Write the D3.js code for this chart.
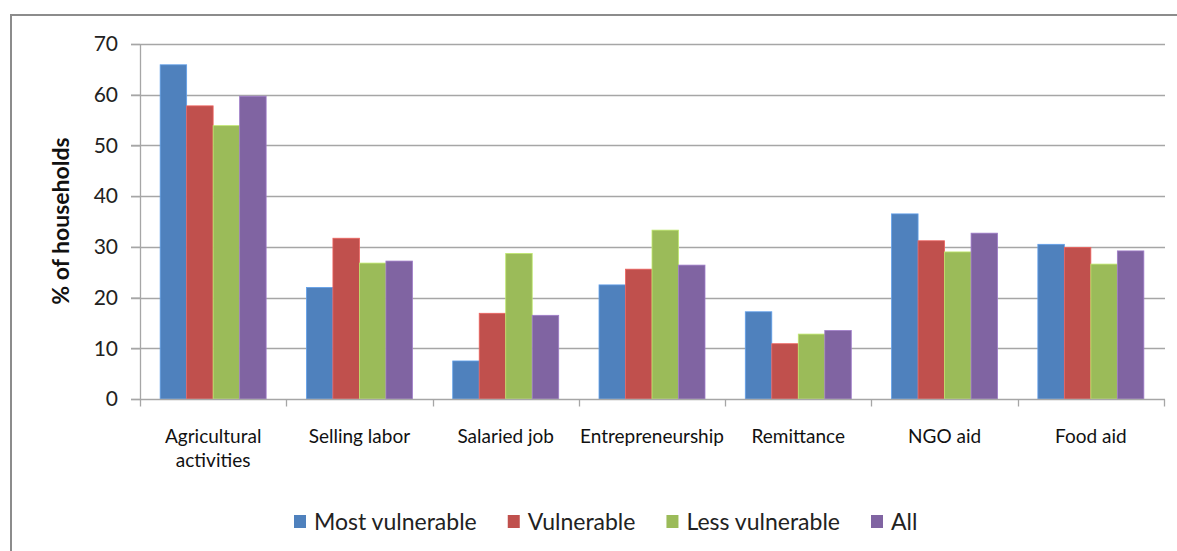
<!DOCTYPE html>
<html>
<head>
<meta charset="utf-8">
<script src="https://cdn.jsdelivr.net/npm/d3@7"></script>
<style>
  html, body { margin: 0; padding: 0; background: #fff; }
  svg { display: block; font-family: Lato, "Open Sans", sans-serif; }
</style>
</head>
<body>
<svg id="chart" width="1177" height="551"></svg>
<script>
// Income sources by household vulnerability group (% of households)
const categories = [
  ["Agricultural", "activities"],
  ["Selling labor"],
  ["Salaried job"],
  ["Entrepreneurship"],
  ["Remittance"],
  ["NGO aid"],
  ["Food aid"]
];
const seriesNames = ["Most vulnerable", "Vulnerable", "Less vulnerable", "All"];
const mostVulnerable = [65.9, 22.0, 7.5, 22.5, 17.2, 36.5, 30.5];
const vulnerable     = [57.8, 31.7, 16.9, 25.6, 10.9, 31.2, 29.9];
const lessVulnerable = [53.9, 26.8, 28.7, 33.3, 12.8, 29.0, 26.6];
const allHouseholds  = [59.7, 27.2, 16.5, 26.4, 13.5, 32.7, 29.2];
const yTicks = [0, 10, 20, 30, 40, 50, 60, 70];
const colors = ["#4f81bd", "#c0504d", "#9bbb59", "#8064a2"];

const series = [mostVulnerable, vulnerable, lessVulnerable, allHouseholds];
const catKeys = categories.map(c => c.join(" "));

const svg = d3.select("#chart");

// outer frame
svg.append("rect")
  .attr("x", 11).attr("y", 15)
  .attr("width", 1200).attr("height", 600)
  .attr("fill", "none").attr("stroke", "#8c8c8c").attr("stroke-width", 2);

const plot = { left: 140, right: 1164, top: 44, bottom: 399 };

const x = d3.scaleBand().domain(catKeys).range([plot.left, plot.right]).paddingInner(0).paddingOuter(0);
const y = d3.scaleLinear().domain([0, 70]).range([plot.bottom, plot.top]);

// gridlines
svg.append("g").selectAll("line").data(yTicks.filter(t => t > 0)).join("line")
  .attr("x1", plot.left - 9).attr("x2", plot.right + 1)
  .attr("y1", d => Math.round(y(d)) + 0.5).attr("y2", d => Math.round(y(d)) + 0.5)
  .attr("stroke", "#a6a6a6").attr("stroke-width", 1.3);

// bars: four series side by side inside each category band
const groupInner = x.bandwidth() * (106 / 146.3);
const bx = d3.scaleBand().domain(d3.range(series.length)).range([0, groupInner]);
const groupOffset = (x.bandwidth() - groupInner) / 2;

series.forEach((vals, si) => {
  svg.append("g").selectAll("rect").data(vals).join("rect")
    .attr("x", (d, i) => x(catKeys[i]) + groupOffset + bx(si))
    .attr("width", bx.bandwidth())
    .attr("y", d => y(d))
    .attr("height", d => y(0) - y(d))
    .attr("fill", colors[si])
    .attr("stroke", d3.color(colors[si]).brighter(0.6))
    .attr("stroke-width", 0.8);
});

// y axis
const yAxis = svg.append("g")
  .attr("transform", `translate(${plot.left},0)`)
  .call(d3.axisLeft(y).tickValues(yTicks).tickSize(9).tickPadding(13).tickFormat(d3.format("d")));
yAxis.select(".domain").attr("stroke", "#a6a6a6").attr("stroke-width", 1.3)
  .attr("d", `M0.5,${plot.top}V${plot.bottom + 1}`);
yAxis.selectAll(".tick line").attr("stroke", "#a6a6a6").attr("stroke-width", 1.3);
yAxis.selectAll(".tick text").attr("font-size", 21).attr("fill", "#222")
  .style("font-family", "Lato, 'Open Sans', sans-serif");

// x axis with category boundary ticks
const xAxis = svg.append("g")
  .attr("transform", `translate(0,${Math.round(y(0)) + 0.5})`);
xAxis.append("line")
  .attr("x1", plot.left - 9).attr("x2", plot.right + 1)
  .attr("stroke", "#a6a6a6").attr("stroke-width", 1.3);
const boundaries = catKeys.map(k => x(k)).concat([plot.right]);
xAxis.selectAll("line.tk").data(boundaries).join("line")
  .attr("class", "tk")
  .attr("x1", d => Math.round(d) + 0.5).attr("x2", d => Math.round(d) + 0.5)
  .attr("y1", 0).attr("y2", 7)
  .attr("stroke", "#a6a6a6").attr("stroke-width", 1.3);

// category labels
categories.forEach((lines, i) => {
  const cx = x(catKeys[i]) + x.bandwidth() / 2;
  const t = svg.append("text")
    .attr("x", cx)
    .attr("y", 443)
    .attr("text-anchor", "middle")
    .attr("font-size", 19).attr("fill", "#111");
  lines.forEach((ln, j) => {
    t.append("tspan").attr("x", cx).attr("dy", j === 0 ? 0 : 24).text(ln);
  });
});

// y axis title
svg.append("text")
  .attr("transform", `translate(69,221) rotate(-90)`)
  .attr("text-anchor", "middle")
  .attr("font-size", 23).attr("font-weight", "bold").attr("fill", "#111")
  .text("% of households");

// legend: items laid out left to right with even gaps
let lx = 294;
seriesNames.forEach((name, i) => {
  const g = svg.append("g").attr("transform", `translate(${lx},515)`);
  g.append("rect").attr("width", 12).attr("height", 13).attr("fill", colors[i]);
  const txt = g.append("text").attr("x", 20).attr("y", 15)
    .attr("font-size", 23).attr("fill", "#222").text(name);
  lx += 20 + txt.node().getComputedTextLength() + 31;
});
</script>
</body>
</html>
